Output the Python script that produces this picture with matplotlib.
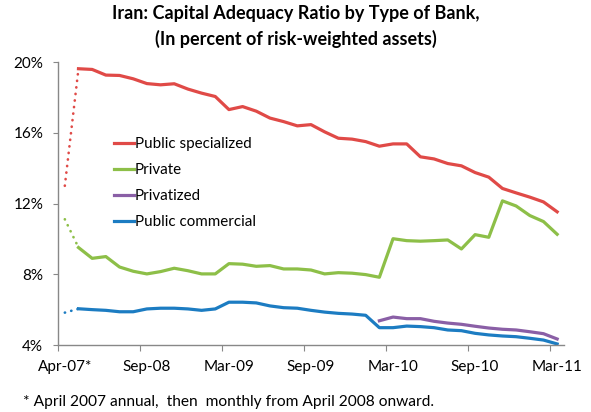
import numpy as np
import matplotlib
matplotlib.use("Agg")
import matplotlib.pyplot as plt

plt.rcParams["font.family"] = ["Lato", "DejaVu Sans"]

# categories: Apr-07 (annual), then monthly Apr-08 .. Mar-11
months = ["Apr-07*"] + [f"{m}-{y:02d}" for y in range(8, 12)
                        for m in ["Jan", "Feb", "Mar", "Apr", "May", "Jun",
                                  "Jul", "Aug", "Sep", "Oct", "Nov", "Dec"]]
months = [months[0]] + months[4:4 + 36]
tick_labels = ["Apr-07*", "Sep-08", "Mar-09", "Sep-09", "Mar-10", "Sep-10", "Mar-11"]

public_specialized = [13.0, 19.62, 19.58, 19.26, 19.24, 19.05, 18.78, 18.71, 18.77, 18.47,
                      18.24, 18.05, 17.31, 17.48, 17.22, 16.83, 16.63, 16.39, 16.46, 16.05,
                      15.69, 15.64, 15.50, 15.24, 15.37, 15.37, 14.64, 14.52, 14.26, 14.13,
                      13.75, 13.49, 12.85, 12.60, 12.36, 12.09, 11.53]
private = [11.11, 9.51, 8.90, 9.00, 8.41, 8.17, 8.02, 8.15, 8.34, 8.20,
           8.02, 8.02, 8.60, 8.57, 8.45, 8.49, 8.30, 8.30, 8.24, 8.02,
           8.09, 8.06, 7.98, 7.83, 10.01, 9.90, 9.87, 9.90, 9.94, 9.43,
           10.24, 10.09, 12.15, 11.86, 11.32, 10.98, 10.26]
privatized = [np.nan] * 23 + [5.37, 5.58, 5.49, 5.49, 5.34, 5.24, 5.17, 5.06, 4.96,
                              4.89, 4.85, 4.75, 4.64, 4.34]
public_commercial = [5.83, 6.05, 6.00, 5.96, 5.88, 5.88, 6.04, 6.08, 6.08, 6.04,
                     5.96, 6.04, 6.42, 6.42, 6.38, 6.21, 6.11, 6.08, 5.96, 5.86,
                     5.79, 5.75, 5.68, 4.98, 4.98, 5.07, 5.04, 4.98, 4.85, 4.81,
                     4.66, 4.57, 4.51, 4.47, 4.38, 4.28, 4.06]

series = [("Public specialized", public_specialized, "#E04A47"),
          ("Private", private, "#8DBF48"),
          ("Privatized", privatized, "#8A5FA6"),
          ("Public commercial", public_commercial, "#1C7CC2")]

fig = plt.figure(figsize=(5.91, 4.12), dpi=100)
ax = fig.add_axes([0.0981, 0.1626, 0.8562, 0.6869])

x = np.arange(len(months))
for name, vals, col in series:
    v = np.array(vals, dtype=float)
    ax.plot(x[1:], v[1:], color=col, linewidth=2.3, label=name,
            solid_joinstyle="round")
    if not np.isnan(v[0]):
        # annual Apr-07 point joined to monthly data with a dotted segment
        ax.plot(x[:2], v[:2], color=col, linewidth=1.9,
                linestyle=(0, (0.1, 2.4)), dash_capstyle="round")

ax.set_xlim(-0.5, len(months) - 0.5)
ax.set_ylim(4, 20)
ax.set_yticks([4, 8, 12, 16, 20])
ax.set_yticklabels(["4%", "8%", "12%", "16%", "20%"], fontsize=11)

# tick marks between categories, labels on categories
ax.set_xticks(np.arange(-0.5, len(months) - 1, 6))
ax.set_xticklabels([])
ax.set_xticks(np.arange(0, len(months), 6), minor=True)
ax.set_xticklabels(tick_labels, minor=True, fontsize=11)
ax.tick_params(axis="x", which="minor", length=0, pad=10.5)
ax.tick_params(axis="x", which="major", length=4.3, color="#888888")
ax.tick_params(axis="y", length=3.6, color="#888888", pad=7)

for s in ["top", "right"]:
    ax.spines[s].set_visible(False)
for s in ["left", "bottom"]:
    ax.spines[s].set_color("#888888")
    ax.spines[s].set_linewidth(1.0)

ax.legend(loc="upper left", bbox_to_anchor=(0.099, 0.756), frameon=False,
          fontsize=10.9, handlelength=1.3, handletextpad=0.05,
          labelspacing=0.8, borderaxespad=0)

fig.text(0.5, 0.968, "Iran: Capital Adequacy Ratio by Type of Bank,",
         ha="center", va="center", fontsize=13, fontweight="bold")
fig.text(0.5, 0.905, "(In percent of risk-weighted assets)",
         ha="center", va="center", fontsize=13, fontweight="bold")
fig.text(0.039, 0.024, "* April 2007 annual,  then  monthly from April 2008 onward.",
         ha="left", va="center", fontsize=11.2)

fig.savefig("out.png", dpi=100)
